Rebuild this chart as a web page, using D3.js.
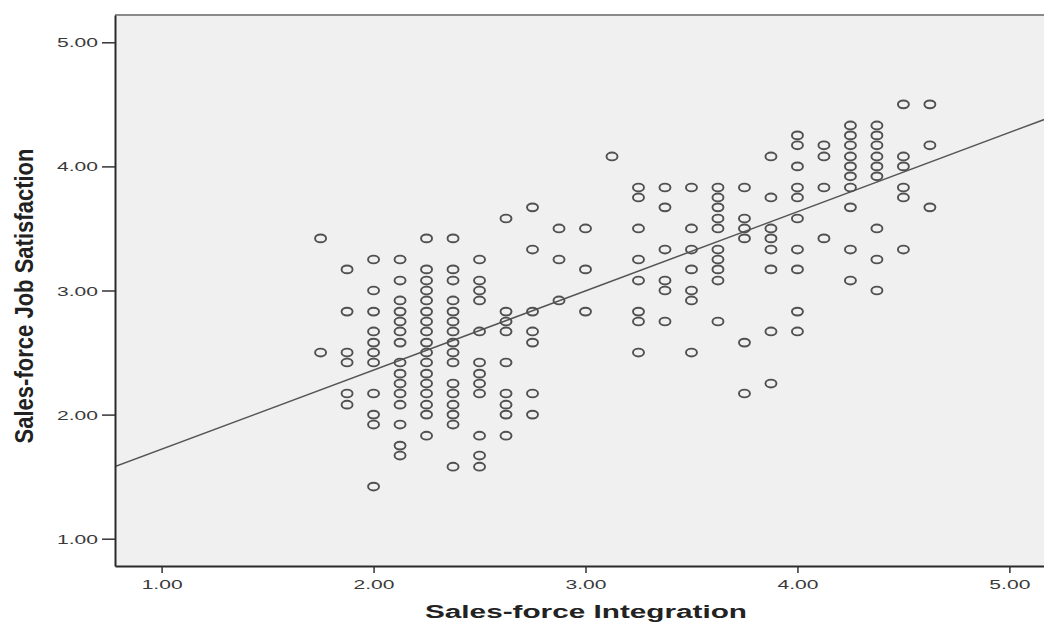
<!DOCTYPE html>
<html>
<head>
<meta charset="utf-8">
<script src="https://cdn.jsdelivr.net/npm/d3@7"></script>
<style>
  html, body { margin: 0; padding: 0; background: #fff; }
  svg { display: block; }
  .tick text { font-family: "Liberation Sans", Arial, sans-serif; font-size: 12.5px; fill: #3a3a3a; }
</style>
</head>
<body>
<svg id="chart"></svg>
<script>
// x levels of Sales-force Integration (columns of the scatter)
const integrationLevels = [1.75, 1.875, 2.0, 2.125, 2.25, 2.375, 2.5, 2.625, 2.75, 2.875, 3.0, 3.125,
  3.25, 3.375, 3.5, 3.625, 3.75, 3.875, 4.0, 4.125, 4.25, 4.375, 4.5, 4.625]

// Job Satisfaction values found in each column, same order as above
const satisfactionByLevel = [
  [3.42, 2.50],
  [3.17, 2.83, 2.50, 2.42, 2.17, 2.08],
  [3.25, 3.00, 2.83, 2.67, 2.58, 2.50, 2.42, 2.17, 2.00, 1.92, 1.42],
  [3.25, 3.08, 2.92, 2.83, 2.75, 2.67, 2.58, 2.42, 2.33, 2.25, 2.17, 2.08, 1.92, 1.75, 1.67],
  [3.42, 3.17, 3.08, 3.00, 2.92, 2.83, 2.75, 2.67, 2.58, 2.50, 2.42, 2.33, 2.25, 2.17, 2.08, 2.00, 1.83],
  [3.42, 3.17, 3.08, 2.92, 2.83, 2.75, 2.67, 2.58, 2.50, 2.42, 2.25, 2.17, 2.08, 2.00, 1.92, 1.58],
  [3.25, 3.08, 3.00, 2.92, 2.67, 2.42, 2.33, 2.25, 2.17, 1.83, 1.67, 1.58],
  [3.58, 2.83, 2.75, 2.67, 2.42, 2.17, 2.08, 2.00, 1.83],
  [3.67, 3.33, 2.83, 2.67, 2.58, 2.17, 2.00],
  [3.50, 3.25, 2.92],
  [3.50, 3.17, 2.83],
  [4.08],
  [3.83, 3.75, 3.50, 3.25, 3.08, 2.83, 2.75, 2.50],
  [3.83, 3.67, 3.33, 3.08, 3.00, 2.75],
  [3.83, 3.50, 3.33, 3.17, 3.00, 2.92, 2.50],
  [3.83, 3.75, 3.67, 3.58, 3.50, 3.33, 3.25, 3.17, 3.08, 2.75],
  [3.83, 3.58, 3.50, 3.42, 2.58, 2.17],
  [4.08, 3.75, 3.50, 3.42, 3.33, 3.17, 2.67, 2.25],
  [4.25, 4.17, 4.00, 3.83, 3.75, 3.58, 3.33, 3.17, 2.83, 2.67],
  [4.17, 4.08, 3.83, 3.42],
  [4.33, 4.25, 4.17, 4.08, 4.00, 3.92, 3.83, 3.67, 3.33, 3.08],
  [4.33, 4.25, 4.17, 4.08, 4.00, 3.92, 3.50, 3.25, 3.00],
  [4.50, 4.08, 4.00, 3.83, 3.75, 3.33],
  [4.50, 4.17, 3.67]
]

// linear fit line shown on the chart
const fitIntercept = 1.083
const fitSlope = 0.638

const xTicks = [1, 2, 3, 4, 5]
const yTicks = [1, 2, 3, 4, 5]
const xDomain = [0.78, 5.22]
const yDomain = [0.78, 5.22]

const xTitle = 'Sales-force Integration'
const yTitle = 'Sales-force Job Satisfaction'

const drawChart = () => {

    const width = 1044
    const height = 624
    const left = 115
    const top = 15
    const right = 1056   // plot runs a bit past the right edge of the picture
    const bottom = 566

    const svg = d3.select('#chart')
        .attr('width', width)
        .attr('height', height)

    const x = d3.scaleLinear().domain(xDomain).range([left, right])
    const y = d3.scaleLinear().domain(yDomain).range([bottom, top])

    // flatten the columns into points
    const points = integrationLevels.flatMap((lvl, i) =>
        satisfactionByLevel[i].map(v => ({ x: lvl, y: v })))

    svg.append('clipPath').attr('id', 'plot-clip')
        .append('rect')
        .attr('x', left).attr('y', top)
        .attr('width', right - left).attr('height', bottom - top)

    // plot background
    svg.append('rect')
        .attr('x', left).attr('y', top)
        .attr('width', right - left).attr('height', bottom - top)
        .attr('fill', '#f0f0f0')

    // top frame line
    svg.append('line')
        .attr('x1', left).attr('x2', right)
        .attr('y1', top).attr('y2', top)
        .attr('stroke', '#8a8a8a').attr('stroke-width', 2)

    // fit line
    svg.append('line')
        .attr('clip-path', 'url(#plot-clip)')
        .attr('x1', x(xDomain[0])).attr('y1', y(fitIntercept + fitSlope * xDomain[0]))
        .attr('x2', x(xDomain[1])).attr('y2', y(fitIntercept + fitSlope * xDomain[1]))
        .attr('stroke', '#555').attr('stroke-width', 1.5)

    // the open circles
    svg.selectAll('.dot')
        .data(points)
        .enter()
        .append('ellipse')
        .attr('class', 'dot')
        .attr('cx', d => x(d.x))
        .attr('cy', d => y(d.y))
        .attr('rx', 5.5)
        .attr('ry', 3.9)
        .attr('fill', 'none')
        .attr('stroke', '#505050')
        .attr('stroke-width', 1.9)

    // y axis
    const yAxis = svg.append('g')
        .attr('transform', `translate(${left},0)`)
        .call(d3.axisLeft(y).tickValues(yTicks).tickFormat(d3.format('.2f')).tickSize(13).tickSizeOuter(0))
    yAxis.select('.domain').attr('stroke', '#2a2a2a').attr('stroke-width', 2)
    yAxis.selectAll('.tick line').attr('stroke', '#333').attr('stroke-width', 1.5)
    yAxis.selectAll('.tick text')
        .attr('x', -17)
        .attr('dy', '0.36em')
        .attr('textLength', 41)
        .attr('lengthAdjust', 'spacingAndGlyphs')

    // x axis
    const xAxis = svg.append('g')
        .attr('transform', `translate(0,${bottom})`)
        .call(d3.axisBottom(x).tickValues(xTicks).tickFormat(d3.format('.2f')).tickSize(7).tickSizeOuter(0))
    xAxis.select('.domain').attr('stroke', '#2a2a2a').attr('stroke-width', 2)
    xAxis.selectAll('.tick line').attr('stroke', '#333').attr('stroke-width', 1.5)
    xAxis.selectAll('.tick text')
        .attr('y', 23)
        .attr('dy', 0)
        .attr('textLength', 41)
        .attr('lengthAdjust', 'spacingAndGlyphs')

    // axis titles
    svg.append('text')
        .attr('x', 586)
        .attr('y', 618)
        .attr('text-anchor', 'middle')
        .attr('font-family', '"Liberation Sans", Arial, sans-serif')
        .attr('font-weight', 'bold')
        .attr('font-size', 18)
        .attr('fill', '#222')
        .attr('textLength', 322)
        .attr('lengthAdjust', 'spacingAndGlyphs')
        .text(xTitle)

    svg.append('text')
        .attr('transform', 'translate(33,296) scale(1.4,1) rotate(-90)')
        .attr('text-anchor', 'middle')
        .attr('font-family', '"Liberation Sans", Arial, sans-serif')
        .attr('font-weight', 'bold')
        .attr('font-size', 18)
        .attr('fill', '#222')
        .attr('textLength', 295)
        .attr('lengthAdjust', 'spacingAndGlyphs')
        .text(yTitle)
}

drawChart()
</script>
</body>
</html>
